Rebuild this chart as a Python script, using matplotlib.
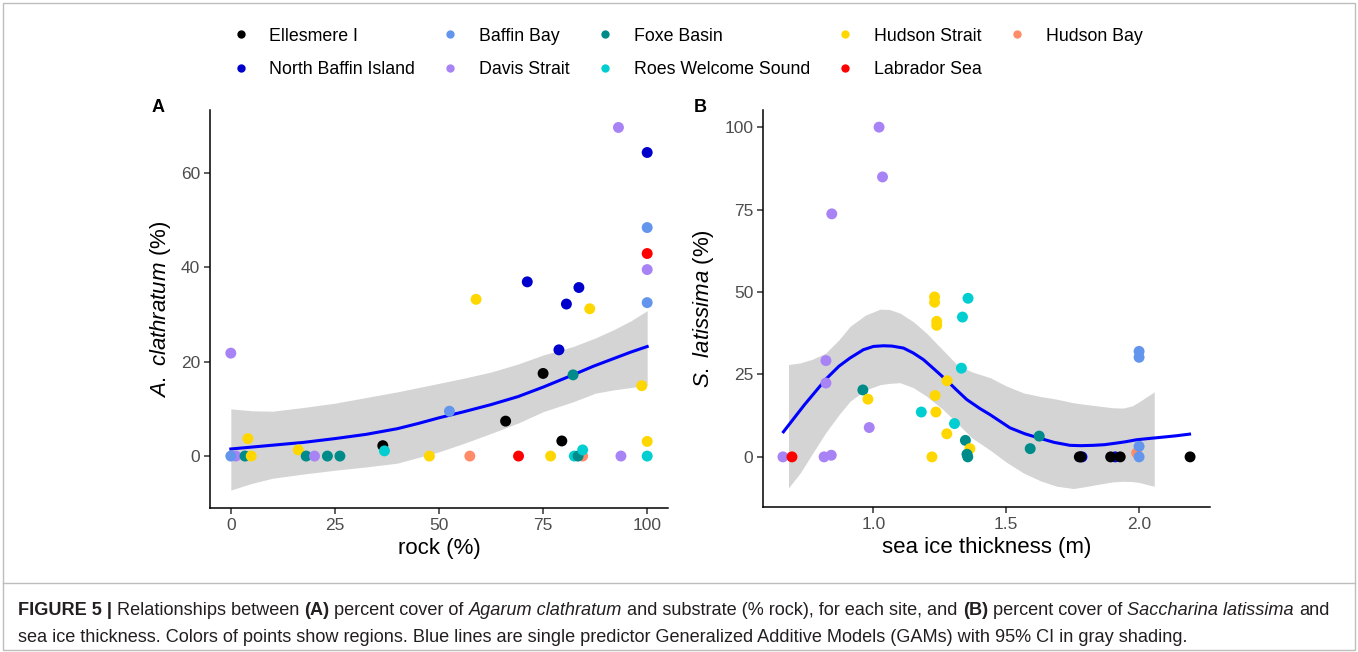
import matplotlib
matplotlib.use("Agg")
from matplotlib import pyplot as plt
from matplotlib import font_manager
from matplotlib.lines import Line2D
from matplotlib.patches import Rectangle
from matplotlib.transforms import IdentityTransform

FONT = "Liberation Sans"
installed = {f.name for f in font_manager.fontManager.ttflist}
CAPTION_FONT = "Liberation Sans Narrow" if "Liberation Sans Narrow" in installed else FONT

plt.rcParams["font.family"] = [FONT, "DejaVu Sans"]
plt.rcParams["mathtext.fontset"] = "custom"
plt.rcParams["mathtext.rm"] = FONT
plt.rcParams["mathtext.it"] = FONT + ":italic"
plt.rcParams["mathtext.bf"] = FONT + ":bold"

# regions, in legend (column-wise) order
regions = [
    "Ellesmere I", "North Baffin Island", "Baffin Bay", "Davis Strait",
    "Foxe Basin", "Roes Welcome Sound", "Hudson Strait", "Labrador Sea",
    "Hudson Bay",
]
region_colors = {
    "Ellesmere I": "#000000",
    "North Baffin Island": "#0000CD",
    "Baffin Bay": "#6495ED",
    "Davis Strait": "#A883F5",
    "Foxe Basin": "#008B8B",
    "Roes Welcome Sound": "#00CED1",
    "Hudson Strait": "#FFD700",
    "Labrador Sea": "#FF0000",
    "Hudson Bay": "#FF8C69",
}

# panel A: rock cover vs Agarum clathratum cover
rock = [0, 1.2, 0, 3.4, 4.1, 4.9, 16.2, 18.1, 20.1, 23.2, 26.2, 36.5, 36.9,
        47.7, 52.5, 57.4, 58.9, 66.0, 69.1, 71.2, 75.0, 76.8, 78.8, 79.5,
        80.6, 82.2, 84.5, 82.5, 83.4, 83.6, 84.5, 86.2, 93.1, 93.7, 98.7,
        100, 100, 100, 100, 100, 100, 100]
agarum = [21.8, 0, 0, 0, 3.7, 0, 1.3, 0, 0, 0, 0, 2.2, 1.1,
          0, 9.5, 0, 33.2, 7.4, 0, 36.9, 17.5, 0, 22.5, 3.2,
          32.2, 17.2, 0, 0, 0, 35.7, 1.3, 31.2, 69.6, 0, 14.9,
          64.3, 48.4, 42.9, 39.5, 32.5, 3.1, 0]
rock_region = [
    "Davis Strait", "Davis Strait", "Baffin Bay", "Foxe Basin", "Hudson Strait",
    "Hudson Strait", "Hudson Strait", "Foxe Basin", "Davis Strait", "Foxe Basin",
    "Foxe Basin", "Ellesmere I", "Roes Welcome Sound", "Hudson Strait",
    "Baffin Bay", "Hudson Bay", "Hudson Strait", "Ellesmere I", "Labrador Sea",
    "North Baffin Island", "Ellesmere I", "Hudson Strait", "North Baffin Island",
    "Ellesmere I", "North Baffin Island", "Foxe Basin", "Hudson Bay",
    "Roes Welcome Sound", "Foxe Basin", "North Baffin Island",
    "Roes Welcome Sound", "Hudson Strait", "Davis Strait", "Davis Strait",
    "Hudson Strait", "North Baffin Island", "Baffin Bay", "Labrador Sea",
    "Davis Strait", "Baffin Bay", "Hudson Strait", "Roes Welcome Sound",
]
gam_a_x = [0, 5, 10, 17.5, 25, 32.5, 40, 45, 50, 56, 62.5, 69, 75, 82.2,
           87, 91.8, 96, 100]
gam_a_fit = [1.5, 1.9, 2.3, 2.9, 3.7, 4.6, 5.8, 6.9, 8.1, 9.4, 10.9, 12.6,
             14.6, 17.2, 19.0, 20.6, 22.0, 23.2]
band_a_x = [0, 5, 10, 17.5, 25, 32.5, 40, 50, 56, 62.5, 69, 75, 82.2,
            87.5, 91.8, 96, 100]
band_a_hi = [10.0, 9.6, 9.5, 10.3, 11.2, 12.4, 13.6, 15.4, 16.5, 17.8, 19.5,
             21.4, 23.2, 25.0, 26.7, 28.6, 30.8]
band_a_lo = [-7.2, -5.8, -4.7, -3.8, -3.0, -2.3, -1.5, 0.9, 2.7, 4.8, 7.0,
             9.4, 11.5, 13.3, 14.0, 14.5, 15.0]

# panel B: sea ice thickness vs Saccharina latissima cover
ice = [0.659, 0.693, 0.814, 0.841, 0.843, 0.821, 0.821, 1.021, 1.034, 0.960,
       0.979, 0.984, 1.18, 1.22, 1.230, 1.230, 1.238, 1.238, 1.232, 1.235,
       1.276, 1.277, 1.305, 1.331, 1.335, 1.356, 1.346, 1.363, 1.352, 1.355,
       1.590, 1.624, 1.785, 1.775, 1.780, 1.910, 1.893, 1.929, 1.991, 2.0,
       2.0, 2.0, 2.0, 2.192]
saccharina = [0, 0, 0, 0.5, 73.7, 29.2, 22.4, 100, 84.9, 20.3,
              17.5, 8.9, 13.6, 0, 48.5, 46.9, 41.1, 39.9, 18.6, 13.6,
              7.0, 23.1, 10.1, 26.9, 42.4, 48.1, 5.0, 2.5, 0.8, 0,
              2.5, 6.3, 0, 0, 0, 0, 0, 0, 1.2, 32.0,
              30.2, 3.2, 0, 0]
ice_region = [
    "Davis Strait", "Labrador Sea", "Davis Strait", "Davis Strait",
    "Davis Strait", "Davis Strait", "Davis Strait", "Davis Strait",
    "Davis Strait", "Foxe Basin", "Hudson Strait", "Davis Strait",
    "Roes Welcome Sound", "Hudson Strait", "Hudson Strait", "Hudson Strait",
    "Hudson Strait", "Hudson Strait", "Hudson Strait", "Hudson Strait",
    "Hudson Strait", "Hudson Strait", "Roes Welcome Sound", "Roes Welcome Sound",
    "Roes Welcome Sound", "Roes Welcome Sound", "Foxe Basin", "Hudson Strait",
    "Foxe Basin", "Foxe Basin", "Foxe Basin", "Foxe Basin",
    "North Baffin Island", "Ellesmere I", "Ellesmere I", "North Baffin Island",
    "Ellesmere I", "Ellesmere I", "Hudson Bay", "Baffin Bay",
    "Baffin Bay", "Baffin Bay", "Baffin Bay", "Ellesmere I",
]
gam_b_x = [0.661, 0.74, 0.821, 0.87, 0.912, 0.962, 1.0, 1.038, 1.07, 1.113,
           1.15, 1.188, 1.23, 1.277, 1.31, 1.351, 1.40, 1.439, 1.514, 1.57,
           1.624, 1.68, 1.740, 1.78, 1.828, 1.87, 1.916, 1.95, 1.991, 2.04,
           2.091, 2.14, 2.19]
gam_b_fit = [7.6, 15.8, 23.6, 27.5, 30.0, 32.5, 33.5, 33.7, 33.6, 33.0,
             31.5, 29.5, 26.5, 23.1, 20.5, 17.4, 14.7, 12.8, 8.8, 7.0,
             5.7, 4.4, 3.5, 3.4, 3.5, 3.7, 4.2, 4.6, 5.2, 5.6,
             6.0, 6.4, 6.9]
band_b_x = [0.68, 0.724, 0.77, 0.82, 0.87, 0.912, 0.97, 1.025, 1.06, 1.10,
            1.15, 1.20, 1.26, 1.314, 1.37, 1.44, 1.50, 1.565, 1.63, 1.69,
            1.753, 1.80, 1.84, 1.90, 1.94, 1.975, 2.004, 2.03, 2.057]
band_b_hi = [28.0, 28.5, 29.6, 31.5, 35.5, 39.6, 43.0, 44.8, 44.7, 43.6,
             41.0, 37.5, 32.5, 28.0, 25.8, 24.0, 21.5, 19.4, 18.3, 17.5,
             16.4, 15.9, 15.5, 14.9, 14.8, 15.5, 16.9, 18.3, 19.7]
band_b_lo = [-9.4, -4.9, 1.0, 7.3, 12.8, 16.9, 20.3, 21.9, 22.3, 22.5,
             21.0, 18.4, 14.5, 10.3, 5.8, 2.0, -1.6, -4.9, -7.3, -8.9,
             -9.6, -9.0, -8.4, -7.6, -7.4, -7.5, -7.8, -8.4, -8.9]

caption_line1 = [
    ("FIGURE 5 |", "bold", "normal"),
    (" Relationships between ", "normal", "normal"),
    ("(A)", "bold", "normal"),
    (" percent cover of ", "normal", "normal"),
    ("Agarum clathratum", "normal", "italic"),
    (" and substrate (% rock), for each site, and ", "normal", "normal"),
    ("(B)", "bold", "normal"),
    (" percent cover of ", "normal", "normal"),
    ("Saccharina latissima", "normal", "italic"),
    (" and", "normal", "normal"),
]
caption_line2 = [
    ("sea ice thickness. Colors of points show regions. Blue lines are single "
     "predictor Generalized Additive Models (GAMs) with 95% CI in gray shading.",
     "normal", "normal"),
]

W, H = 1358, 652
fig = plt.figure(figsize=(W / 100, H / 100), dpi=100)


def px_axes(left, top, right, bottom):
    return fig.add_axes([left / W, 1 - bottom / H, (right - left) / W, (bottom - top) / H])


def style_axes(ax):
    for side in ("top", "right"):
        ax.spines[side].set_visible(False)
    for side in ("left", "bottom"):
        ax.spines[side].set_linewidth(1.1)
        ax.spines[side].set_color("black")
    ax.tick_params(length=4, width=1.1, color="#333333", labelsize=12.5,
                   labelcolor="#4d4d4d", pad=3)


ax_a = px_axes(210, 110, 668, 508)
ax_b = px_axes(763, 110, 1210, 507)

ax_a.fill_between(band_a_x, band_a_lo, band_a_hi, color="#D4D4D4", lw=0, zorder=1)
ax_a.plot(gam_a_x, gam_a_fit, color="#0000FF", lw=2.2, zorder=2)
ax_a.scatter(rock, agarum, c=[region_colors[r] for r in rock_region],
             s=62, linewidths=0, zorder=3)
ax_a.set_xlim(-5, 105)
ax_a.set_ylim(-11, 73.3)
ax_a.set_xticks([0, 25, 50, 75, 100])
ax_a.set_yticks([0, 20, 40, 60])
ax_a.set_xlabel("rock (%)", fontsize=16, labelpad=4)
ax_a.set_ylabel(r"$\mathit{A.\ clathratum}$ (%)", fontsize=16, labelpad=6)
style_axes(ax_a)

ax_b.fill_between(band_b_x, band_b_lo, band_b_hi, color="#D4D4D4", lw=0, zorder=1)
ax_b.plot(gam_b_x, gam_b_fit, color="#0000FF", lw=2.2, zorder=2)
ax_b.scatter(ice, saccharina, c=[region_colors[r] for r in ice_region],
             s=62, linewidths=0, zorder=3)
ax_b.set_xlim(0.584, 2.267)
ax_b.set_ylim(-15.2, 105.2)
ax_b.set_xticks([1.0, 1.5, 2.0])
ax_b.set_xticklabels(["1.0", "1.5", "2.0"])
ax_b.set_yticks([0, 25, 50, 75, 100])
ax_b.set_xlabel("sea ice thickness (m)", fontsize=16, labelpad=4)
ax_b.set_ylabel(r"$\mathit{S.\ latissima}$ (%)", fontsize=16, labelpad=6)
style_axes(ax_b)

fig.text(158 / W, 1 - 107 / H, "A", fontsize=13, fontweight="bold", ha="center", va="center")
fig.text(700 / W, 1 - 107 / H, "B", fontsize=13, fontweight="bold", ha="center", va="center")

handles = [
    Line2D([], [], marker="o", linestyle="none", markersize=6,
           markerfacecolor=region_colors[r], markeredgewidth=0, label=r)
    for r in regions
]
fig.legend(handles=handles, loc="center", bbox_to_anchor=(687 / W, 1 - 53 / H),
           ncol=5, frameon=False, fontsize=12.8, handlelength=1.0,
           handletextpad=1.1, columnspacing=1.5, labelspacing=0.95, borderpad=0)

# figure frame and caption box
fig.add_artist(Rectangle((3 / W, 2 / H), (W - 6) / W, (H - 5) / H,
                         transform=fig.transFigure, fill=False,
                         edgecolor="#BDBDBD", lw=1))
fig.add_artist(Line2D([3 / W, 1 - 3 / W], [1 - 583 / H, 1 - 583 / H],
                      transform=fig.transFigure, color="#BDBDBD", lw=1))

renderer = fig.canvas.get_renderer()


def run_width(text, size, weight, style):
    t = fig.text(0, 0, "|" + text + "|", fontsize=size, family=CAPTION_FONT,
                 weight=weight, style=style, transform=IdentityTransform())
    w1 = t.get_window_extent(renderer).width
    t.set_text("||")
    w2 = t.get_window_extent(renderer).width
    t.remove()
    return w1 - w2


def draw_runs(runs, x, y, size):
    for text, weight, style in runs:
        stripped = text.lstrip(" ")
        lead = run_width(text[: len(text) - len(stripped)], size, weight, style)
        fig.text(x + lead, y, stripped, fontsize=size, family=CAPTION_FONT,
                 weight=weight, style=style, color="#231F20",
                 transform=IdentityTransform(), ha="left", va="baseline")
        x += run_width(text, size, weight, style)


base = 12
total = sum(run_width(t, base, w, s) for t, w, s in caption_line1)
cap_size = base * 1318 / total
draw_runs(caption_line1, 18, H - 615, cap_size)
draw_runs(caption_line2, 18, H - 642, cap_size)

fig.savefig("out.png", dpi=100)
